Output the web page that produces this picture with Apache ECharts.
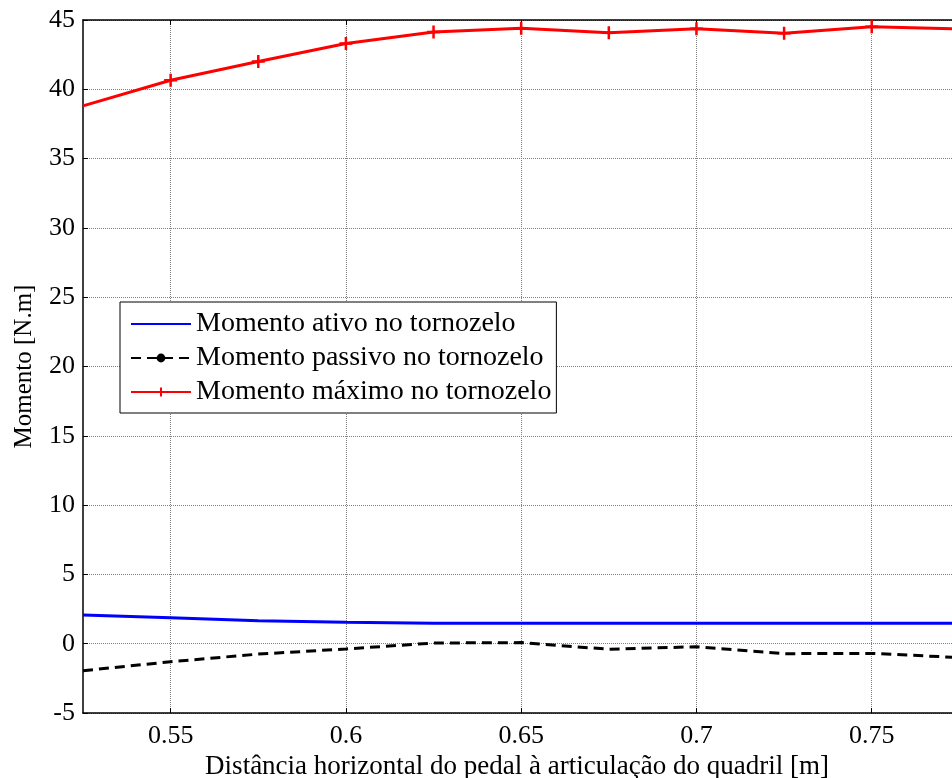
<!DOCTYPE html>
<html>
<head>
<meta charset="utf-8">
<script src="https://cdn.jsdelivr.net/npm/echarts@6/dist/echarts.min.js"></script>
<style>html,body{margin:0;padding:0;background:#fff}#c{width:952px;height:778px}</style>
</head>
<body>
<div id="c"></div>
<script>
const xValues = [0.525, 0.55, 0.575, 0.6, 0.625, 0.65, 0.675, 0.7, 0.725, 0.75, 0.775];
const ativo   = [2.07, 1.88, 1.66, 1.54, 1.47, 1.47, 1.47, 1.47, 1.47, 1.47, 1.47];
const passivo = [-1.95, -1.3, -0.75, -0.38, 0.05, 0.08, -0.4, -0.22, -0.72, -0.7, -1.0];
const maximo  = [38.8, 40.65, 42.0, 43.3, 44.13, 44.4, 44.08, 44.37, 44.04, 44.52, 44.35];
const xTicks = [0.55, 0.6, 0.65, 0.7, 0.75, 0.8];
const seriesNames = ['Momento ativo no tornozelo', 'Momento passivo no tornozelo', 'Momento máximo no tornozelo'];
const xName = 'Distância horizontal do pedal à articulação do quadril [m]';
const yName = 'Momento [N.m]';

const FONT = 'Liberation Serif';
const pair = arr => xValues.map((x, i) => [x, arr[i]]);
const plus = 'path://M0,-10L0,10M-10,0L10,0';
const maxData = pair(maximo).map((p, i) => i === 0 ? {value: p, symbol: 'none'} : {value: p});

const chart = echarts.init(document.getElementById('c'), null, {renderer: 'canvas'});
chart.setOption({
  animation: false,
  backgroundColor: '#fff',
  grid: {left: 83, top: 20, right: -95, bottom: 65, containLabel: false, outerBoundsMode: 'none'},
  xAxis: [{
    type: 'value', min: 0.525, max: 0.8, position: 'bottom',
    name: xName, nameLocation: 'middle', nameGap: 39,
    nameTextStyle: {fontFamily: FONT, fontSize: 27, color: '#000', padding: [0, 96, 0, 0]},
    axisLine: {show: true, onZero: false, lineStyle: {color: '#000', width: 1.5}},
    axisTick: {show: true, inside: true, length: 5, customValues: xTicks, lineStyle: {color: '#000'}},
    axisLabel: {customValues: xTicks, fontFamily: FONT, fontSize: 26, color: '#000', margin: 10,
      formatter: v => String(+v.toFixed(3))},
    splitLine: {show: true, lineStyle: {color: '#808080', type: 'dotted', width: 1}}
  }, {
    type: 'value', min: 0.525, max: 0.8, position: 'top',
    axisLine: {show: true, onZero: false, lineStyle: {color: '#000', width: 1.5}},
    axisTick: {show: true, inside: true, length: 5, customValues: xTicks, lineStyle: {color: '#000'}},
    axisLabel: {show: false},
    splitLine: {show: false}
  }],
  yAxis: [{
    type: 'value', min: -5, max: 45, interval: 5,
    name: yName, nameLocation: 'middle', nameGap: 46,
    nameTextStyle: {fontFamily: FONT, fontSize: 25, color: '#000'},
    axisLine: {show: true, onZero: false, lineStyle: {color: '#000', width: 1.5}},
    axisTick: {show: true, inside: true, length: 5, lineStyle: {color: '#000'}},
    axisLabel: {fontFamily: FONT, fontSize: 26, color: '#000', margin: 8},
    splitLine: {show: true, lineStyle: {color: '#808080', type: 'dotted', width: 1}}
  }],
  legend: {
    orient: 'vertical', left: 120, top: 302,
    itemWidth: 60, itemHeight: 11, itemGap: 6,
    padding: [8, 5, 7, 10],
    borderColor: '#000', borderWidth: 1, backgroundColor: '#fff',
    textStyle: {fontFamily: FONT, fontSize: 28, color: '#000'},
    data: [
      {name: seriesNames[0], itemStyle: {opacity: 0}},
      {name: seriesNames[1]},
      {name: seriesNames[2]}
    ]
  },
  series: [{
    name: seriesNames[0], type: 'line', data: pair(ativo),
    symbol: 'none', lineStyle: {color: '#0000ff', width: 3}, itemStyle: {color: '#0000ff'}
  }, {
    name: seriesNames[1], type: 'line', data: pair(passivo),
    symbol: 'circle', symbolSize: 6, showSymbol: false,
    lineStyle: {color: '#000', width: 3, type: [10, 6]}, itemStyle: {color: '#000'}
  }, {
    name: seriesNames[2], type: 'line', data: maxData,
    symbol: plus, symbolSize: 13,
    lineStyle: {color: '#ff0000', width: 3},
    itemStyle: {color: '#ff0000', borderColor: '#ff0000', borderWidth: 2.5}
  }]
});
</script>
</body>
</html>
